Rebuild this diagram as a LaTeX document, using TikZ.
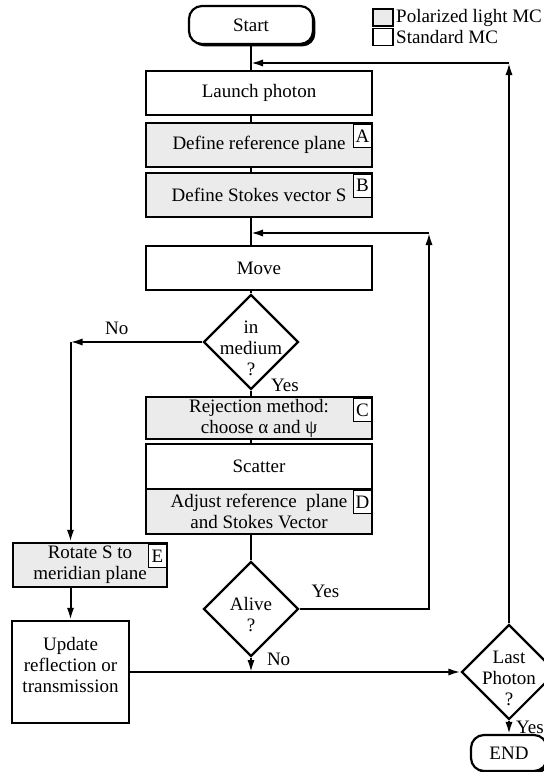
\documentclass[tikz,border=0pt]{standalone}
\usepackage{fontspec}
\setmainfont{Liberation Serif}
\usepackage{tikz}
\usetikzlibrary{shapes.geometric, arrows.meta, positioning, calc, shadows}
\tikzset{
  stdbox/.style={rectangle, draw, line width=1.2pt, fill=white, minimum width=113pt,
                 minimum height=22pt, inner sep=0.5pt, align=center},
  polbox/.style={stdbox, fill=gray!16},
  tagbox/.style={rectangle, draw, line width=0.5pt, fill=white, minimum width=9pt,
                 minimum height=11.5pt, inner sep=0pt, anchor=north east,
                 xshift=-0.6pt, yshift=-1pt},
  decision/.style={diamond, draw, line width=1.1pt, fill=white, minimum width=47.5pt,
                   minimum height=47.5pt, inner sep=0pt},
  dtext/.style={align=center, yshift=-3pt},
  terminal/.style={rectangle, draw, rounded corners=6.5pt, line width=1.1pt, fill=white,
                   drop shadow={shadow xshift=1.2pt, shadow yshift=-1.2pt, fill=black, opacity=1}},
  keybox/.style={rectangle, draw, line width=0.8pt, minimum width=10pt,
                 minimum height=8.5pt, inner sep=0pt},
  link/.style={line width=1pt},
  flow/.style={-{Latex[length=6pt, width=3.6pt]}, line width=1pt},
  lbl/.style={inner sep=1pt},
}

\begin{document}
\begin{tikzpicture}[x=0.5pt, y=-0.5pt, font=\fontsize{9.5pt}{10.5pt}\selectfont]
  \useasboundingbox (0,0) rectangle (543,772);

  % Legend
  \node [keybox, fill=gray!16] (keypol) at (383,17.5) {};
  \node [keybox] (keystd) at (383,37) {};
  \node [lbl, anchor=west] (keypoltxt) at (keypol.east) {Polarized light MC};
  \node [lbl, anchor=west] (keystdtxt) at (keystd.east) {Standard MC};

  % Nodes
  \node [terminal, minimum width=62pt, minimum height=19pt] (start) at (251,25) {Start};
  \node [stdbox] (launch) at (259,93) {Launch photon};
  \node [polbox] (defref) at (259,145) {Define reference plane};
  \node [tagbox] (tagA) at (defref.north east) {A};
  \node [polbox] (stokes) at (259,195) {Define Stokes vector S};
  \node [tagbox] (tagB) at (stokes.north east) {B};
  \node [stdbox] (move) at (259,268) {Move};

  \node [decision, label={[dtext]center:{in\\medium\\?}}] (medium) at (251,342) {};

  \node [polbox, minimum height=21pt] (reject) at (259,418)
    {Rejection method:\\choose α and ψ};
  \node [tagbox] (tagC) at (reject.north east) {C};
  \node [stdbox, minimum height=22.5pt] (scatter) at (259,466.5) {Scatter};
  \node [polbox, minimum height=22.5pt] (adjust) at (259,511.5)
    {Adjust reference\ \ plane\\and Stokes Vector};
  \node [tagbox] (tagD) at (adjust.north east) {D};

  \node [decision, label={[dtext]center:{Alive\\?}}] (alive) at (251,609) {};

  \node [polbox, minimum width=77pt] (rotate) at (90,565)
    {Rotate S to\hspace{9pt}\\meridian plane\hspace{4pt}};
  \node [tagbox] (tagE) at (rotate.north east) {E};
  \node [stdbox, minimum width=58.5pt, minimum height=51pt] (update) at (70.5,672)
    {Update\\reflection or\\transmission\\[-3.5pt]\mbox{}};

  \node [decision, label={[dtext]center:{Last\\Photon\\?}}] (last) at (509,672) {};
  \node [terminal, minimum width=38pt, minimum height=18pt] (stop) at (509,753) {END};

  % Corners
  \coordinate (nocorner) at (update.north |- medium.west);
  \coordinate (merge) at (alive.south |- last.west);
  \coordinate (incorner) at (429,233);
  \coordinate (outcorner) at (last.north |- 0,63);

  % Edges
  \draw [link] (start.south) -- (start.south |- launch.north);
  \draw [link] (start.south |- launch.south) -- (start.south |- defref.north);
  \draw [link] (start.south |- defref.south) -- (start.south |- stokes.north);
  \draw [link] (start.south |- stokes.south) -- (start.south |- move.north);
  \draw [link] (medium.north |- move.south) -- (medium.north);
  \draw [link] (medium.south) --
    node[lbl, at start, anchor=west, xshift=8.5pt, yshift=2.5pt] {Yes}
    (medium.south |- reject.north);
  \draw [link] (medium.south |- reject.south) -- (medium.south |- scatter.north);
  \draw [link] (alive.north |- adjust.south) -- (alive.north);

  \draw [flow] (medium.west) -- node[lbl, above, pos=0.65, yshift=2pt] {No} (nocorner);
  \draw [flow] (nocorner) -- (nocorner |- rotate.north);
  \draw [flow] (nocorner |- rotate.south) -- (update.north);

  \draw [flow] (update.east) -- (last.west);
  \draw [flow] (alive.south) --
    node[lbl, at start, anchor=west, xshift=6.5pt, yshift=-1pt] {No} (merge);

  \draw [flow] (alive.east) -| node[lbl, above, pos=0.1, yshift=4pt] {Yes} (incorner);
  \draw [flow] (incorner) -- (start.south |- incorner);

  \draw [flow] (last.north) -- (outcorner);
  \draw [flow] (outcorner) -- (start.south |- outcorner);
  \draw [flow] (last.south) -- node[lbl, right, xshift=2pt] {Yes} (stop.north);
\end{tikzpicture}
\end{document}
